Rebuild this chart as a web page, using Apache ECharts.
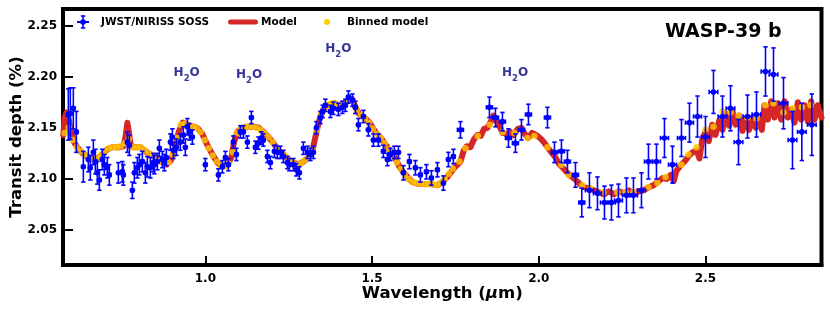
<!DOCTYPE html>
<html>
<head>
<meta charset="utf-8">
<script src="https://cdn.jsdelivr.net/npm/echarts@6/dist/echarts.min.js"></script>
<style>html,body{margin:0;padding:0;background:#fff}#c{width:830px;height:312px}</style>
</head>
<body>
<div id="c"></div>
<script>
// ---------- Observed spectrum (JWST/NIRISS SOSS) ----------
const wave = [
0.589,0.595,0.604,0.613,0.634,0.649,0.655,0.664,0.670,0.676,0.682,0.691,0.697,0.706,0.712,0.739,0.751,0.754,0.766,0.772,0.781,0.787,0.796,0.802,0.811,0.820,0.826,0.835,0.844,0.847,0.856,0.862,0.871,0.877,0.883,0.895,0.901,0.904,0.913,0.925,0.934,0.940,0.946,0.952,0.961,
1.000,1.039,1.051,1.060,1.069,1.084,1.093,1.105,1.114,1.126,1.138,1.150,1.159,1.168,1.174,1.186,1.195,1.207,1.216,1.225,1.234,1.246,1.252,1.264,1.273,1.282,1.294,1.306,1.315,1.324,1.333,1.345,1.352,
1.360,1.375,1.384,1.399,1.411,1.420,1.429,1.441,1.450,1.459,1.474,1.489,1.504,1.519,1.534,1.546,1.555,1.567,1.579,1.594,1.612,1.630,1.645,1.663,1.678,1.696,1.714,1.729,1.744,
1.765,1.852,1.870,1.891,1.909,1.930,1.948,1.969,2.026,2.047,2.068,2.086,2.110,2.129,
2.152,2.176,2.197,2.218,2.239,2.263,2.284,2.308,2.329,2.353,2.377,2.401,2.428,2.452,2.476,2.500,
2.524,2.551,2.575,2.599,2.626,2.653,2.680,2.704,2.734,2.761,2.789,2.819];
const depth = [
2.163,2.164,2.169,2.146,2.112,2.119,2.111,2.126,2.117,2.106,2.099,2.119,2.114,2.111,2.104,2.106,2.107,2.104,2.136,2.133,2.089,2.106,2.111,2.114,2.117,2.106,2.112,2.111,2.116,2.114,2.117,2.130,2.119,2.116,2.121,2.136,2.141,2.128,2.131,2.136,2.143,2.131,2.151,2.146,2.141,
2.114,2.104,2.112,2.121,2.114,2.136,2.124,2.146,2.146,2.136,2.160,2.131,2.135,2.140,2.138,2.122,2.116,2.127,2.126,2.126,2.122,2.116,2.114,2.114,2.109,2.106,2.130,2.126,2.124,2.126,2.150,2.160,2.166,
2.172,2.166,2.169,2.168,2.170,2.172,2.180,2.177,2.170,2.153,2.161,2.148,2.138,2.138,2.127,2.119,2.124,2.126,2.126,2.106,2.117,2.111,2.104,2.107,2.101,2.109,2.096,2.119,2.122,
2.148,2.170,2.160,2.156,2.140,2.135,2.148,2.163,2.160,2.126,2.127,2.117,2.104,2.077,
2.089,2.086,2.077,2.077,2.079,2.084,2.084,2.089,2.117,2.117,2.140,2.114,2.140,2.155,2.161,2.141,
2.185,2.161,2.169,2.136,2.161,2.163,2.205,2.202,2.174,2.138,2.146,2.153];
const depthErr = [
0.025,0.025,0.020,0.020,0.015,0.012,0.012,0.012,0.012,0.011,0.010,0.010,0.010,0.010,0.010,0.010,0.010,0.010,0.010,0.010,0.008,0.010,0.010,0.010,0.010,0.010,0.010,0.010,0.009,0.009,0.008,0.008,0.008,0.008,0.008,0.008,0.008,0.008,0.008,0.008,0.008,0.008,0.008,0.008,0.007,
0.006,0.006,0.006,0.006,0.006,0.006,0.006,0.006,0.006,0.006,0.006,0.006,0.006,0.006,0.006,0.006,0.006,0.006,0.006,0.006,0.006,0.006,0.006,0.006,0.006,0.006,0.006,0.006,0.006,0.006,0.006,0.006,0.006,
0.006,0.006,0.006,0.006,0.006,0.006,0.006,0.006,0.006,0.006,0.006,0.006,0.006,0.006,0.006,0.006,0.006,0.006,0.006,0.007,0.007,0.007,0.007,0.007,0.007,0.007,0.007,0.007,0.007,
0.008,0.010,0.009,0.009,0.009,0.009,0.010,0.010,0.010,0.010,0.011,0.011,0.012,0.014,
0.017,0.016,0.016,0.017,0.016,0.017,0.017,0.017,0.017,0.017,0.019,0.018,0.018,0.019,0.020,0.020,
0.021,0.020,0.022,0.022,0.021,0.022,0.024,0.026,0.025,0.028,0.028,0.030];
const waveErr = [
0.004,0.004,0.004,0.004,0.004,0.004,0.004,0.004,0.004,0.004,0.004,0.004,0.004,0.004,0.004,0.004,0.004,0.004,0.004,0.004,0.004,0.004,0.004,0.004,0.004,0.004,0.004,0.004,0.004,0.004,0.004,0.004,0.004,0.004,0.004,0.004,0.004,0.004,0.004,0.004,0.004,0.004,0.004,0.004,0.004,
0.004,0.004,0.004,0.004,0.004,0.004,0.004,0.004,0.004,0.004,0.004,0.004,0.004,0.004,0.004,0.004,0.004,0.004,0.004,0.004,0.004,0.004,0.004,0.004,0.004,0.004,0.004,0.004,0.004,0.004,0.004,0.004,0.004,
0.005,0.005,0.005,0.005,0.005,0.005,0.005,0.005,0.005,0.005,0.005,0.005,0.005,0.005,0.005,0.005,0.005,0.005,0.005,0.005,0.005,0.005,0.005,0.005,0.005,0.005,0.005,0.005,0.005,
0.009,0.009,0.009,0.009,0.009,0.009,0.009,0.009,0.009,0.009,0.009,0.009,0.009,0.009,
0.012,0.012,0.012,0.012,0.012,0.012,0.012,0.012,0.012,0.012,0.012,0.012,0.012,0.012,0.012,0.012,
0.013,0.013,0.013,0.013,0.013,0.013,0.013,0.013,0.013,0.013,0.013,0.013];

// ---------- Model ----------
const modelWave = [
0.574,0.578,0.584,0.590,0.597,0.606,0.618,0.632,0.648,0.664,0.680,0.694,0.706,0.720,0.740,0.754,0.760,0.766,0.771,0.776,0.790,0.805,0.820,0.835,0.855,0.872,0.884,0.896,0.908,0.920,0.932,0.948,0.964,0.976,0.991,
1.006,1.021,1.036,1.051,1.066,1.078,1.086,1.096,1.111,1.129,1.145,1.160,1.174,1.189,1.204,1.219,1.234,1.249,1.264,1.279,1.294,1.309,1.320,1.328,1.336,1.345,1.354,1.365,1.386,1.405,1.426,1.441,1.450,1.462,1.477,1.492,
1.510,1.531,1.552,1.567,1.582,1.600,1.621,1.642,1.672,1.696,1.711,1.726,1.747,1.765,1.775,1.784,1.795,1.806,1.816,1.826,1.836,1.846,1.856,1.864,1.872,1.882,1.891,1.903,1.915,1.925,1.937,1.948,1.958,1.968,1.980,1.992,
2.004,2.015,2.026,2.038,2.050,2.060,2.072,2.083,2.095,2.108,2.120,2.134,2.150,2.165,2.180,2.195,2.210,2.225,2.240,2.255,2.270,2.285,2.300,2.315,2.330,2.345,2.360,2.372,2.384,2.396,2.405,2.413,2.425,2.437,2.449,2.461,2.473,2.482,2.490,
2.500,2.510,2.520,2.530,2.541,2.551,2.561,2.571,2.581,2.591,2.601,2.611,2.621,2.631,2.641,2.651,2.661,2.669,2.677,2.687,2.697,2.707,2.717,2.727,2.737,2.747,2.757,2.767,2.777,2.787,2.797,2.807,2.817,2.827,2.837,2.848];
const modelDepth = [
2.143,2.160,2.165,2.158,2.146,2.136,2.130,2.125,2.121,2.119,2.121,2.125,2.129,2.131,2.131,2.132,2.140,2.155,2.145,2.132,2.131,2.131,2.127,2.124,2.120,2.116,2.114,2.118,2.128,2.146,2.155,2.153,2.151,2.150,2.144,
2.133,2.124,2.116,2.112,2.114,2.121,2.136,2.146,2.150,2.151,2.151,2.150,2.146,2.141,2.135,2.128,2.124,2.119,2.116,2.114,2.117,2.121,2.126,2.138,2.150,2.161,2.168,2.172,2.174,2.172,2.176,2.178,2.170,2.163,2.160,2.155,
2.146,2.138,2.128,2.122,2.112,2.104,2.097,2.095,2.095,2.094,2.097,2.102,2.111,2.117,2.128,2.132,2.131,2.139,2.143,2.142,2.149,2.150,2.156,2.162,2.157,2.152,2.145,2.144,2.146,2.143,2.149,2.150,2.144,2.140,2.145,2.143,
2.140,2.136,2.131,2.126,2.121,2.115,2.111,2.107,2.103,2.100,2.096,2.092,2.091,2.089,2.087,2.085,2.088,2.085,2.088,2.086,2.089,2.085,2.088,2.089,2.092,2.094,2.098,2.101,2.100,2.104,2.098,2.108,2.113,2.117,2.122,2.126,2.128,2.120,2.138,
2.146,2.137,2.153,2.143,2.157,2.148,2.164,2.152,2.166,2.153,2.162,2.147,2.159,2.148,2.160,2.150,2.158,2.148,2.172,2.158,2.176,2.160,2.174,2.158,2.176,2.160,2.168,2.155,2.175,2.158,2.172,2.156,2.176,2.158,2.172,2.160];

// ---------- Binned model ----------
const binWave = [
0.578,0.590,0.602,0.614,0.626,0.638,0.650,0.662,0.674,0.686,0.698,0.710,0.722,0.734,0.746,0.758,0.770,0.782,0.794,0.806,0.818,0.830,0.842,0.854,0.866,0.878,0.890,0.902,0.914,0.926,0.938,0.950,0.962,0.974,0.986,0.998,
1.010,1.022,1.034,1.046,1.058,1.070,1.082,1.094,1.106,1.118,1.130,1.142,1.154,1.166,1.178,1.190,1.202,1.214,1.226,1.238,1.250,1.262,1.274,1.286,1.298,1.310,1.322,1.334,1.346,1.358,1.370,1.382,1.394,1.406,1.418,1.430,1.442,1.454,1.466,1.478,1.490,
1.502,1.514,1.526,1.538,1.550,1.562,1.574,1.586,1.598,1.610,1.622,1.634,1.646,1.658,1.670,1.682,1.694,1.706,1.718,1.730,1.742,
1.762,1.780,1.817,1.853,1.892,1.927,1.966,1.987,2.026,2.068,2.089,2.131,2.155,2.194,2.236,2.260,2.284,2.329,2.356,2.380,2.428,2.449,2.473,
2.500,2.524,2.551,2.575,2.599,2.626,2.653,2.680,2.704,2.734,2.761,2.789,2.815];
const binDepth = [
2.145,2.150,2.138,2.131,2.127,2.124,2.121,2.119,2.120,2.123,2.127,2.130,2.131,2.131,2.132,2.135,2.139,2.131,2.131,2.131,2.128,2.125,2.123,2.120,2.117,2.115,2.116,2.124,2.140,2.153,2.154,2.152,2.151,2.150,2.146,2.138,
2.130,2.123,2.117,2.113,2.112,2.115,2.126,2.145,2.149,2.151,2.151,2.151,2.150,2.148,2.145,2.141,2.136,2.130,2.126,2.123,2.119,2.116,2.114,2.115,2.118,2.121,2.128,2.148,2.162,2.169,2.173,2.174,2.173,2.172,2.174,2.177,2.176,2.167,2.162,2.159,2.155,
2.149,2.144,2.140,2.135,2.129,2.124,2.116,2.110,2.104,2.100,2.097,2.096,2.095,2.095,2.095,2.095,2.094,2.096,2.100,2.105,2.110,
2.117,2.130,2.142,2.153,2.146,2.145,2.140,2.142,2.131,2.114,2.104,2.094,2.091,2.087,2.087,2.087,2.087,2.092,2.096,2.102,2.114,2.124,2.131,
2.148,2.151,2.166,2.165,2.162,2.160,2.159,2.172,2.174,2.165,2.169,2.170,2.172];

// ---------- Annotations ----------
const annoWave = [0.944, 1.131, 1.399, 1.929];
const annoDepth = [2.2034, 2.2015, 2.2267, 2.2032];
const annoText = ['H2O', 'H2O', 'H2O', 'H2O'];

// ---------- Legend labels & ticks ----------
const legendNames = ['JWST/NIRISS SOSS', 'Model', 'Binned model'];
const xTicks = [1.0, 1.5, 2.0, 2.5];
const yTicks = [2.05, 2.10, 2.15, 2.20, 2.25];

const FONT = 'DejaVu Sans';
const BLUE = '#0000ff', RED = '#d62728', YELLOW = '#ffcc00', NAVY = '#000080';

const obsData = wave.map((w, i) => [w, depth[i], depthErr[i], waveErr[i]]);
const modelData = modelWave.map((w, i) => [w, modelDepth[i]]);
const binData = binWave.map((w, i) => [w, binDepth[i]]);
const annoData = annoWave.map((w, i) => ({value: [w, annoDepth[i]], name: annoText[i]}));

const chart = echarts.init(document.getElementById('c'), null, {renderer: 'canvas', width: 830, height: 312});

const legTxt = {fontFamily: FONT, fontSize: 10.5, fontWeight: 'bold', fill: '#000', verticalAlign: 'middle', align: 'left'};
const LY = 22;

chart.setOption({
  animation: false,
  backgroundColor: '#fff',
  textStyle: {fontFamily: FONT},
  grid: {left: 63, right: 8.5, top: 9, bottom: 47, containLabel: false, outerBoundsMode: 'none',
    show: true, borderColor: '#000', borderWidth: 4, backgroundColor: 'transparent'},
  title: {text: 'WASP-39 b', left: 665, top: 23, padding: 0,
    textStyle: {fontFamily: FONT, fontSize: 19, fontWeight: 'bold', color: '#000'}},
  graphic: [
    {type: 'group', z: 100, children: [
      {type: 'line', shape: {x1: 83, y1: LY - 6, x2: 83, y2: LY + 6}, style: {stroke: BLUE, lineWidth: 1.6}},
      {type: 'line', shape: {x1: 80.8, y1: LY - 6, x2: 85.2, y2: LY - 6}, style: {stroke: BLUE, lineWidth: 1.6}},
      {type: 'line', shape: {x1: 80.8, y1: LY + 6, x2: 85.2, y2: LY + 6}, style: {stroke: BLUE, lineWidth: 1.6}},
      {type: 'line', shape: {x1: 77, y1: LY, x2: 89, y2: LY}, style: {stroke: BLUE, lineWidth: 2}},
      {type: 'circle', shape: {cx: 83, cy: LY, r: 2.8}, style: {fill: BLUE}},
      {type: 'text', x: 101, y: LY, style: Object.assign({text: legendNames[0]}, legTxt)},
      {type: 'line', shape: {x1: 230.5, y1: LY, x2: 255.5, y2: LY}, style: {stroke: RED, lineWidth: 5, lineCap: 'round'}},
      {type: 'text', x: 261, y: LY, style: Object.assign({text: legendNames[1]}, legTxt)},
      {type: 'circle', shape: {cx: 327, cy: LY, r: 3}, style: {fill: YELLOW}},
      {type: 'text', x: 347, y: LY, style: Object.assign({text: legendNames[2]}, legTxt)}
    ]}
  ],
  xAxis: {
    type: 'value', min: 0.573, max: 2.848,
    name: 'Wavelength ({i|μ}m)', nameLocation: 'middle', nameGap: 20, nameMoveOverlap: false,
    nameTextStyle: {fontFamily: FONT, fontSize: 16.5, fontWeight: 'bold', color: '#000',
      rich: {i: {fontFamily: FONT, fontSize: 16.5, fontWeight: 'bold', fontStyle: 'italic', color: '#000'}}},
    axisLine: {show: true, onZero: false, lineStyle: {color: '#000', width: 4}},
    axisTick: {show: true, inside: true, length: 9, customValues: xTicks, lineStyle: {color: '#000', width: 2}},
    axisLabel: {show: true, customValues: xTicks, margin: 8, formatter: v => v.toFixed(1),
      fontFamily: FONT, fontSize: 12, fontWeight: 'bold', color: '#000'},
    splitLine: {show: false}
  },
  yAxis: {
    type: 'value', min: 2.016, max: 2.266,
    name: 'Transit depth (%)', nameLocation: 'middle', nameGap: 38, nameMoveOverlap: false,
    nameTextStyle: {fontFamily: FONT, fontSize: 16.5, fontWeight: 'bold', color: '#000'},
    axisLine: {show: true, onZero: false, lineStyle: {color: '#000', width: 4}},
    axisTick: {show: true, inside: true, length: 10, customValues: yTicks, lineStyle: {color: '#000', width: 2}},
    axisLabel: {show: true, customValues: yTicks, margin: 6, formatter: v => v.toFixed(2),
      fontFamily: FONT, fontSize: 12, fontWeight: 'bold', color: '#000'},
    splitLine: {show: false}
  },
  series: [
    {name: legendNames[1], type: 'line', data: modelData, showSymbol: false, symbol: 'none', z: 2,
     color: RED, lineStyle: {color: RED, width: 6, cap: 'round', join: 'round'}, clip: true},
    {name: legendNames[2], type: 'scatter', data: binData, symbolSize: 6.5, z: 3,
     itemStyle: {color: YELLOW}, clip: true},
    {name: legendNames[0], type: 'custom', data: obsData, z: 4, clip: true,
     itemStyle: {color: BLUE},
     encode: {x: 0, y: 1},
     renderItem: function (params, api) {
       const x = api.value(0), y = api.value(1), ey = api.value(2), ex = api.value(3);
       const c = api.coord([x, y]);
       const t = api.coord([x, y + ey]);
       const b = api.coord([x, y - ey]);
       const l = api.coord([x - ex, y]);
       const r = api.coord([x + ex, y]);
       const st = {stroke: BLUE, lineWidth: 1.6};
       const cap = 2.2;
       return {type: 'group', children: [
         {type: 'line', shape: {x1: c[0], y1: t[1], x2: c[0], y2: b[1]}, style: st},
         {type: 'line', shape: {x1: c[0] - cap, y1: t[1], x2: c[0] + cap, y2: t[1]}, style: st},
         {type: 'line', shape: {x1: c[0] - cap, y1: b[1], x2: c[0] + cap, y2: b[1]}, style: st},
         {type: 'line', shape: {x1: l[0], y1: c[1], x2: r[0], y2: c[1]}, style: {stroke: BLUE, lineWidth: 2}},
         {type: 'line', shape: {x1: l[0], y1: c[1] - cap, x2: l[0], y2: c[1] + cap}, style: st},
         {type: 'line', shape: {x1: r[0], y1: c[1] - cap, x2: r[0], y2: c[1] + cap}, style: st},
         {type: 'circle', shape: {cx: c[0], cy: c[1], r: 2.8}, style: {fill: BLUE}}
       ]};
     }},
    {name: 'annotations', type: 'scatter', data: annoData, symbolSize: 1, z: 5,
     itemStyle: {color: 'rgba(0,0,0,0)'}, silent: true,
     label: {show: true, position: 'inside',
       formatter: p => '{h|' + p.name.charAt(0) + '}{s|' + p.name.charAt(1) + '}{h|' + p.name.charAt(2) + '}',
       rich: {
         h: {fontFamily: FONT, fontSize: 12, fontWeight: 'bold', color: NAVY, lineHeight: 20, verticalAlign: 'middle'},
         s: {fontFamily: FONT, fontSize: 8.5, fontWeight: 'bold', color: NAVY, lineHeight: 14, verticalAlign: 'bottom'}
       }}}
  ]
});
</script>
</body>
</html>
